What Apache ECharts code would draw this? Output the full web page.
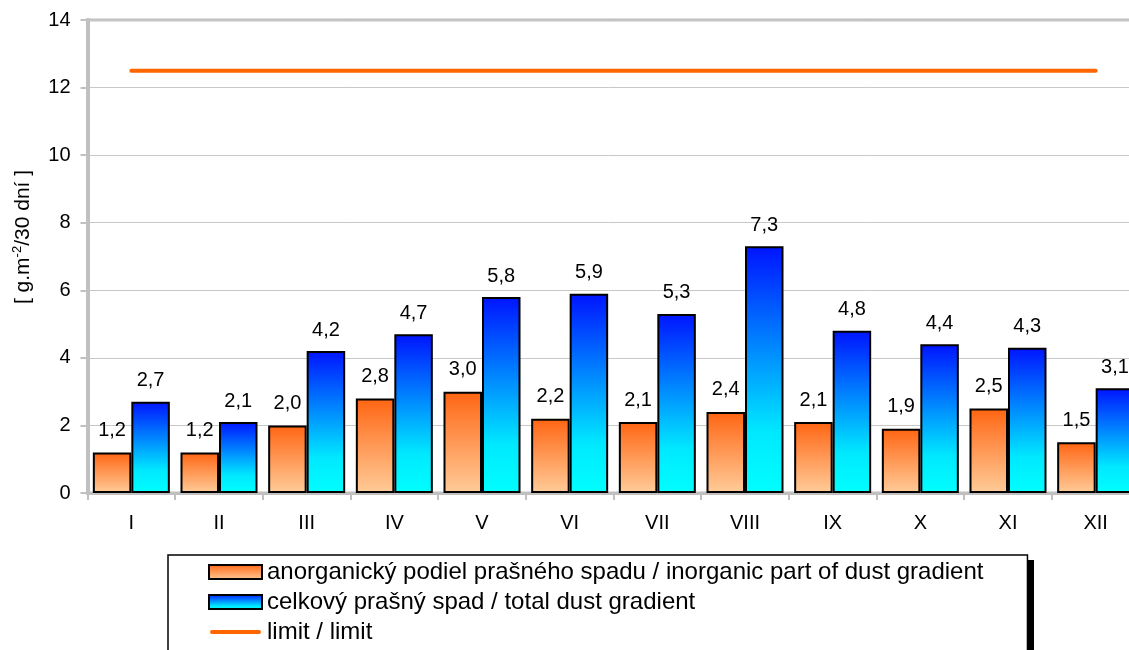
<!DOCTYPE html>
<html>
<head>
<meta charset="utf-8">
<script src="https://cdn.jsdelivr.net/npm/echarts@6/dist/echarts.min.js"></script>
<style>html,body{margin:0;padding:0;background:#fff;}#c{width:1129px;height:650px;}</style>
</head>
<body>
<div id="c"></div>
<script>
const categories = ['I','II','III','IV','V','VI','VII','VIII','IX','X','XI','XII'];
const inorganic = [1.2,1.2,2.0,2.8,3.0,2.2,2.1,2.4,2.1,1.9,2.5,1.5];
const total = [2.7,2.1,4.2,4.7,5.8,5.9,5.3,7.3,4.8,4.4,4.3,3.1];
const limit = [12.5,12.5,12.5,12.5,12.5,12.5,12.5,12.5,12.5,12.5,12.5,12.5];
const yTicks = {min:0, max:14, interval:2};
const names = ['anorganický podiel prašného spadu / inorganic part of dust gradient','celkový prašný spad / total dust gradient','limit / limit'];

const FONT = 'Liberation Sans, Arial, sans-serif';
const fmt = p => p.value.toFixed(1).replace('.', ',');
const chart = echarts.init(document.getElementById('c'));
const orangeGrad = new echarts.graphic.LinearGradient(0,0,0,1,[
  {offset:0,color:'#ff6410'},{offset:0.2,color:'#ff7a2e'},{offset:1,color:'#ffcc99'}]);
const blueGrad = new echarts.graphic.LinearGradient(0,0,0,1,[
  {offset:0,color:'#0014ff'},{offset:0.75,color:'#00e8ff'},{offset:1,color:'#00ffff'}]);
chart.setOption({
  animation:false,
  textStyle:{fontFamily:FONT},
  grid:{left:87.5,width:1052,top:20,bottom:157,show:true,borderColor:'#c0c0c0',borderWidth:3,
    containLabel:false,outerBoundsMode:'none'},
  xAxis:{type:'category',data:categories,
    axisLine:{lineStyle:{color:'#c0c0c0',width:3}},
    axisTick:{show:true,length:7,lineStyle:{color:'#c0c0c0',width:2}},
    axisLabel:{color:'#000',fontSize:20,fontFamily:FONT,margin:20}},
  yAxis:{type:'value',min:yTicks.min,max:yTicks.max,interval:yTicks.interval,
    axisLine:{show:true,lineStyle:{color:'#c0c0c0',width:4}},
    axisTick:{show:true,length:7,lineStyle:{color:'#c0c0c0',width:2}},
    axisLabel:{color:'#000',fontSize:20,fontFamily:FONT,margin:17},
    splitLine:{lineStyle:{color:'#c8c8c8',width:1}}},
  legend:{orient:'vertical',left:168,top:555,height:200,padding:[4,44,30,40],itemGap:4,
    itemWidth:53,itemHeight:14,backgroundColor:'#fff',borderColor:'#000',borderWidth:1.5,z:10,
    textStyle:{color:'#000',fontSize:24,fontFamily:FONT,padding:[0,0,0,0],lineHeight:26},
    data:[{name:names[0],icon:'rect'},{name:names[1],icon:'rect'},
          {name:names[2],icon:'path://M0,0 M53,14 M3,5 L50,5 A2,2 0 0 1 50,9 L3,9 A2,2 0 0 1 3,5 Z',
           itemStyle:{color:'#ff6600',borderWidth:0}}]},
  graphic:[
    {type:'rect',left:173,top:560,z:1,shape:{width:861,height:200},style:{fill:'#000'}},
    {type:'text',x:22,y:237,rotation:Math.PI/2,
    style:{text:'{a|[ g.m}{s|-2}{a|/30 dní ]}',align:'center',verticalAlign:'middle',
      rich:{a:{fontSize:21,fontFamily:FONT,fill:'#000',lineHeight:24,verticalAlign:'bottom'},
            s:{fontSize:13,fontFamily:FONT,fill:'#000',lineHeight:24,verticalAlign:'bottom',padding:[0,0,10,0]}}}}],
  series:[
    {name:names[0],type:'bar',data:inorganic,barWidth:38.5,barGap:'0%',
     itemStyle:{color:orangeGrad,borderColor:'#000',borderWidth:2},
     label:{show:true,position:'top',distance:12,color:'#000',fontSize:20,fontFamily:FONT,formatter:fmt}},
    {name:names[1],type:'bar',data:total,barWidth:38.5,
     itemStyle:{color:blueGrad,borderColor:'#000',borderWidth:2},
     label:{show:true,position:'top',distance:11,color:'#000',fontSize:20,fontFamily:FONT,formatter:fmt}},
    {name:names[2],type:'line',data:limit,symbol:'none',z:5,
     lineStyle:{color:'#ff6600',width:4,cap:'round'},itemStyle:{color:'#ff6600'}}
  ]
});
</script>
</body>
</html>
